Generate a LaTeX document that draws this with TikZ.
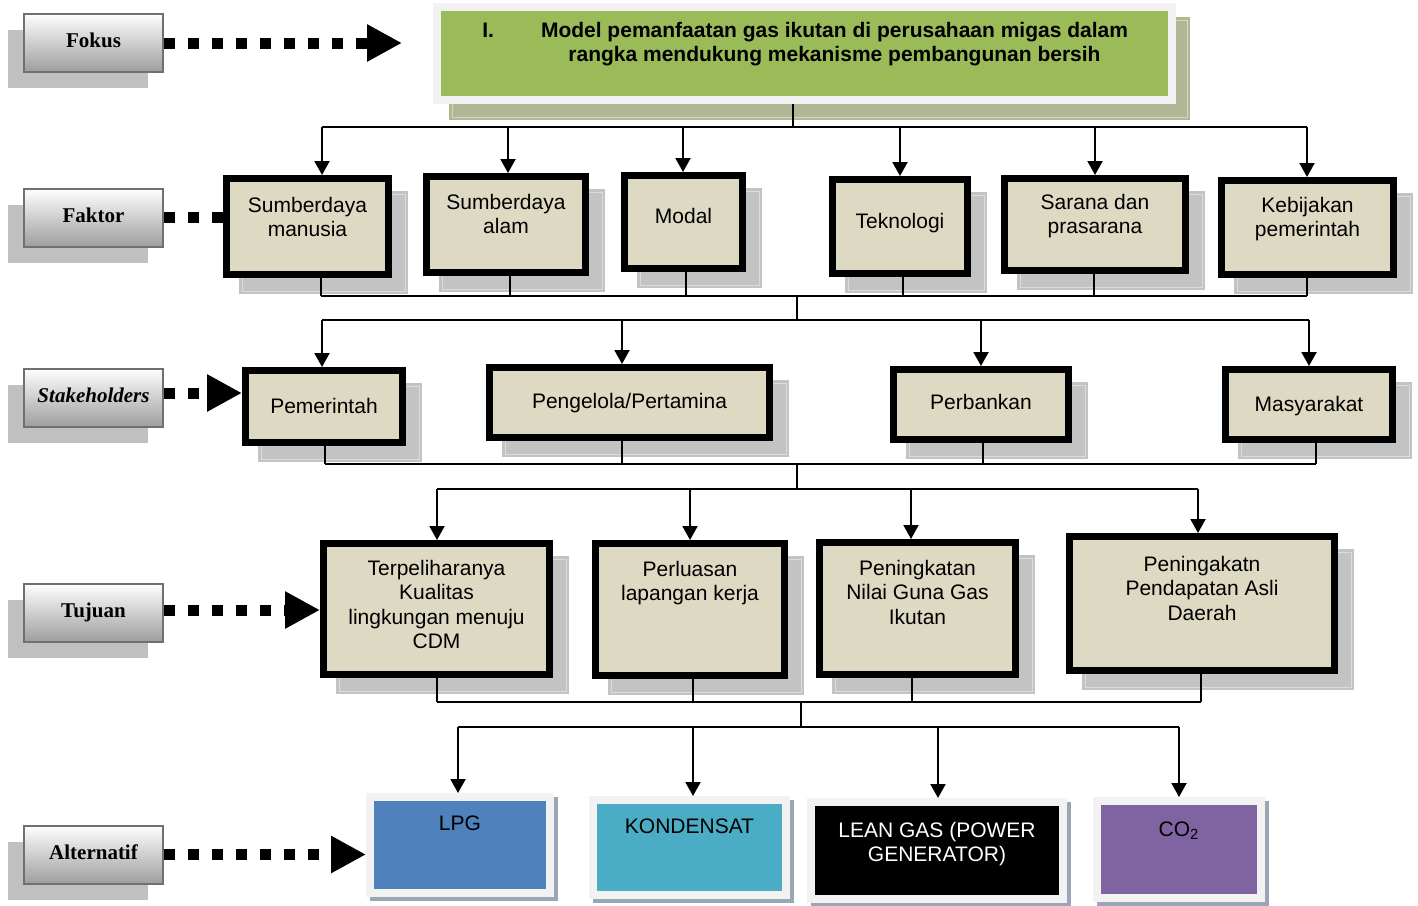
\documentclass[tikz,border=0pt]{standalone}
\usepackage{fontspec}
\setmainfont{Liberation Sans}
\newfontfamily\tnr{Liberation Serif}
\usetikzlibrary{arrows.meta}
\newdimen\pxu \pxu=0.5pt
\definecolor{beige}{HTML}{DDD9C3}
\definecolor{shdgray}{HTML}{C3C3C3}
\definecolor{shdline}{HTML}{DCDCDC}
\definecolor{lblshd}{HTML}{C0C0C0}
\definecolor{lblborder}{HTML}{707070}
\definecolor{titlegreen}{HTML}{9BBB59}
\definecolor{lightframe}{HTML}{F2F2F2}
\definecolor{titleshd}{HTML}{B0B794}
\definecolor{titleshdline}{HTML}{D3D7C3}
\definecolor{altshd}{HTML}{9AA6B6}
\definecolor{lpgblue}{HTML}{4F81BD}
\definecolor{kondcyan}{HTML}{4BACC6}
\definecolor{copurple}{HTML}{8064A2}
\tikzset{
  fbox/.style={draw=black, fill=beige, line width=3.5pt, inner sep=0pt},
  abox/.style={draw=lightframe, line width=4pt, inner sep=0pt},
  tbox/.style={draw=lightframe, fill=titlegreen, line width=4pt, inner sep=0pt},
  lbox/.style={draw=lblborder, line width=1pt, top color=white, bottom color=black!38,
    minimum width=69.5pt, minimum height=29pt, inner sep=0pt,
    font=\tnr\bfseries\fontsize{10.5}{12}\selectfont},
  conn/.style={line width=1pt, black},
  arr/.style={conn, -{Triangle[width=7.5pt,length=7pt]}},
  dotline/.style={line width=5.5pt, dash pattern=on 5.5pt off 6.5pt, black},
  dotarr/.style={dotline, -{Triangle[width=17.5pt,length=17.5pt]}}
}
\newcommand\boxtext[4]{% w h pad text (px)
  \parbox[c][\dimexpr#2\pxu\relax][t]{\dimexpr#1\pxu\relax}{\fontsize{10.5}{12.25}\selectfont\centering\vspace*{#3\pxu}#4\par}}
\newcommand\factorbox[7]{% name x1 y1 x2 y2 pad text
  \fill[shdgray] (#2+16,#3+16) rectangle (#4+16,#5+16);
  \draw[shdline, line width=0.5pt] (#2+19,#3+19) rectangle (#4+13,#5+13);
  \node[fbox] (#1) at ({(#2+#4)/2},{(#3+#5)/2})
    {\boxtext{\numexpr#4-#2-7\relax}{\numexpr#5-#3-7\relax}{#6}{#7}};
}
\newcommand\altbox[8]{% name x1 y1 x2 y2 pad colour text
  \fill[altshd] (#2+4,#3+4) rectangle (#4+4,#5+4);
  \node[abox, fill=#7] (#1) at ({(#2+#4)/2},{(#3+#5)/2})
    {\boxtext{\numexpr#4-#2-8\relax}{\numexpr#5-#3-8\relax}{#6}{#8}};
}
\newcommand\labelbox[3]{% name y1 text
  \fill[lblshd] (8,#2+17) rectangle (148,#2+75);
  \node[lbox] (#1) at (93.5,#2+29.5) {\raisebox{2pt}{#3}};
}
\begin{document}
\begin{tikzpicture}[x=0.5pt,y=-0.5pt]
\useasboundingbox (0,0) rectangle (1418,905);

% ---- left labels
\labelbox{fokus}{13}{Fokus}
\labelbox{faktor}{188}{Faktor}
\labelbox{stake}{368}{\itshape Stakeholders}
\labelbox{tujuan}{583}{Tujuan}
\labelbox{alter}{825}{Alternatif}

% ---- title
\fill[titleshd] (449,17) rectangle (1190,120);
\draw[titleshdline, line width=0.5pt] (452,20) rectangle (1187,117);
\node[tbox] (title) at (804.5,53.5) {\parbox[c][46.5pt][t]{367.5pt}{\fontsize{10.5}{12}\selectfont\bfseries
  \centering\leftskip=30pt plus 1fil\rightskip=0pt plus 1fil\relax
  \vspace*{7.5pt}\leavevmode\llap{I.\hspace*{23.5pt}}Model pemanfaatan gas ikutan di perusahaan migas dalam\\
  rangka mendukung mekanisme pembangunan bersih\par}};

% ---- factor row
\factorbox{f1}{223}{175}{392}{278}{18.5}{Sumberdaya\\manusia}
\factorbox{f2}{423}{173}{589}{276}{17.5}{Sumberdaya\\alam}
\factorbox{f3}{621}{172}{746}{272}{32.5}{Modal}
\factorbox{f4}{829}{176}{971}{277}{33.5}{Teknologi}
\factorbox{f5}{1001}{175}{1189}{274}{15.5}{Sarana dan\\prasarana}
\factorbox{f6}{1218}{177}{1397}{278}{16.5}{Kebijakan\\pemerintah}

% ---- stakeholder row
\factorbox{s1}{242}{367}{406}{446}{27.5}{Pemerintah}
\factorbox{s2}{486}{364}{773}{441}{25.5}{Pengelola/Pertamina}
\factorbox{s3}{890}{366}{1072}{443}{24.5}{Perbankan}
\factorbox{s4}{1222}{366}{1396}{443}{26.5}{Masyarakat}

% ---- goal row
\factorbox{t1}{320}{540}{553}{678}{16.5}{Terpeliharanya\\Kualitas\\lingkungan menuju\\CDM}
\factorbox{t2}{592}{540}{788}{679}{17.5}{Perluasan\\lapangan kerja}
\factorbox{t3}{816}{539}{1019}{678}{17.5}{Peningkatan\\Nilai Guna Gas\\Ikutan}
\factorbox{t4}{1066}{533}{1338}{674}{19.5}{Peningakatn\\Pendapatan Asli\\Daerah}

% ---- alternative row
\altbox{a1}{366}{793}{554}{897}{19}{lpgblue}{LPG}
\altbox{a2}{589}{796}{790}{899}{19}{kondcyan}{KONDENSAT}
\altbox{a3}{807}{798}{1067}{903}{20}{black}{\color{white}LEAN GAS (POWER\\GENERATOR)}
\altbox{a4}{1093}{797}{1265}{902}{21}{copurple}{CO\textsubscript{2}}

% ---- connectors: title -> factors
\coordinate (j0) at (793,127);
\draw[conn] (j0 |- title.south) -- (j0);
\draw[conn] (322,127) -- (1307,127);
\foreach \n/\x in {f1/322,f2/508,f3/683,f4/900,f5/1095,f6/1307}{
  \draw[arr] (\x,127) -- (\x,127 |- \n.north);
}

% factors -> stakeholders
\foreach \n/\x in {f1/321,f2/510,f3/686,f4/903,f5/1094,f6/1307}{
  \draw[conn] (\x,296 |- \n.south) -- (\x,296);
}
\draw[conn] (321,296) -- (1307,296);
\coordinate (j1) at (797,296);
\coordinate (j1b) at (797,320);
\draw[conn] (j1) -- (j1b);
\draw[conn] (322,320) -- (1309,320);
\foreach \n/\x in {s1/322,s2/622,s3/981,s4/1309}{
  \draw[arr] (\x,320) -- (\x,320 |- \n.north);
}

% stakeholders -> goals
\foreach \n/\x in {s1/325,s2/622,s3/983,s4/1316}{
  \draw[conn] (\x,464 |- \n.south) -- (\x,464);
}
\draw[conn] (325,464) -- (1316,464);
\coordinate (j2) at (797,464);
\coordinate (j2b) at (797,489);
\draw[conn] (j2) -- (j2b);
\draw[conn] (437,489) -- (1198,489);
\foreach \n/\x in {t1/437,t2/690,t3/911,t4/1198}{
  \draw[arr] (\x,489) -- (\x,489 |- \n.north);
}

% goals -> alternatives
\foreach \n/\x in {t1/437,t2/693,t3/912,t4/1201}{
  \draw[conn] (\x,702 |- \n.south) -- (\x,702);
}
\draw[conn] (437,702) -- (1201,702);
\coordinate (j3) at (801,702);
\coordinate (j3b) at (801,727);
\draw[conn] (j3) -- (j3b);
\draw[conn] (458,727) -- (1179,727);
\foreach \n/\x in {a1/458,a2/693,a3/938,a4/1179}{
  \draw[arr] (\x,727) -- (\x,727 |- \n.north);
}

% ---- dotted arrows from labels
\coordinate (fokustip) at (402,43);
\draw[dotarr] (fokus.east |- fokustip) -- (fokustip);
\draw[dotline] (faktor.east) -- (faktor.east -| f1.west);
\draw[dotarr] (164,393) -- (s1.west |- 164,393);
\draw[dotarr] (164,610) -- (t1.west |- 164,610);
\draw[dotarr] (alter.east) -- (alter.east -| a1.west);
\end{tikzpicture}
\end{document}
